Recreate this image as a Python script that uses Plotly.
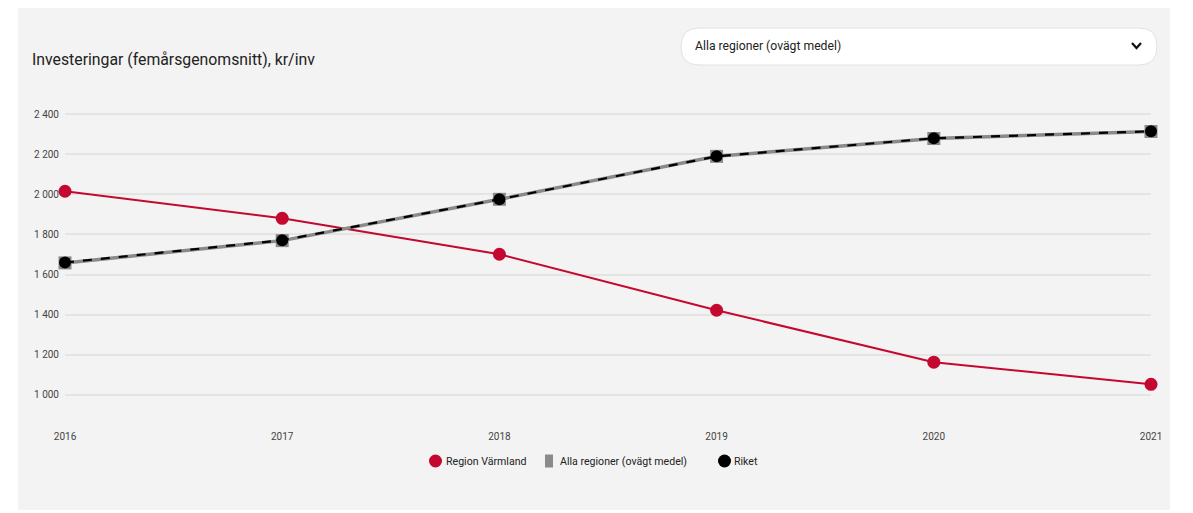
import plotly.graph_objects as go

years = [2016, 2017, 2018, 2019, 2020, 2021]
varmland = [2015, 1880, 1701, 1422, 1163, 1053]
alla_regioner = [1658, 1769, 1975, 2189, 2278, 2313]
riket = [1660, 1771, 1975, 2189, 2279, 2314]
y_ticks = [1000, 1200, 1400, 1600, 1800, 2000, 2200, 2400]

OFF = 8  # page body margin
W, H = 1193 - 2 * OFF, 513 - OFF
L, R, T, B = 65 - OFF, 1151 - OFF, 110 - OFF, 420 - OFF

def px(x):
    return (x - OFF - L) / (R - L)

def py(y):
    return (B - (y - OFF)) / (B - T)

RED = "#c4082f"
GREY = "#8a8a8a"
FONT = "Roboto"

fig = go.Figure()
fig.add_trace(go.Scatter(x=years, y=varmland, mode="lines+markers", name="Region Värmland",
                         line=dict(color=RED, width=2), marker=dict(color=RED, size=13),
                         cliponaxis=False, showlegend=False))
fig.add_trace(go.Scatter(x=years, y=alla_regioner, mode="lines+markers", name="Alla regioner (ovägt medel)",
                         line=dict(color=GREY, width=3.5), marker=dict(color=GREY, size=13, symbol="square"),
                         cliponaxis=False, showlegend=False))
fig.add_trace(go.Scatter(x=years, y=riket, mode="lines+markers", name="Riket",
                         line=dict(color="#000000", width=2.2, dash="dash"), marker=dict(color="#000000", size=12),
                         cliponaxis=False, showlegend=False))

shapes = [
    dict(type="rect", xref="paper", yref="paper", x0=px(18), x1=px(1170), y0=py(510), y1=py(8),
         fillcolor="#f3f3f3", line=dict(width=0), layer="below"),
]
# dropdown box with rounded corners
x0, x1, y0, y1, r = 681, 1157, 28, 65, 18
path = (f"M {px(x0+r)},{py(y0)} L {px(x1-r)},{py(y0)} "
        f"Q {px(x1)},{py(y0)} {px(x1)},{py(y0+r)} "
        f"Q {px(x1)},{py(y1)} {px(x1-r)},{py(y1)} "
        f"L {px(x0+r)},{py(y1)} Q {px(x0)},{py(y1)} {px(x0)},{py(y1-r)} "
        f"Q {px(x0)},{py(y0)} {px(x0+r)},{py(y0)} Z")
shapes.append(dict(type="path", xref="paper", yref="paper", path=path,
                   fillcolor="#ffffff", line=dict(color="#e2e2e2", width=1), layer="below"))
# chevron
shapes.append(dict(type="path", xref="paper", yref="paper",
                   path=f"M {px(1132)},{py(43)} L {px(1136.5)},{py(48)} L {px(1141)},{py(43)}",
                   line=dict(color="#111111", width=2.2)))

# legend (manual)
LY = 461
shapes.append(dict(type="circle", xref="paper", yref="paper",
                   x0=px(429), x1=px(442), y0=py(LY + 6.5), y1=py(LY - 6.5),
                   fillcolor=RED, line=dict(width=0)))
shapes.append(dict(type="rect", xref="paper", yref="paper",
                   x0=px(545), x1=px(553), y0=py(LY + 6.5), y1=py(LY - 6.5),
                   fillcolor=GREY, line=dict(width=0)))
shapes.append(dict(type="circle", xref="paper", yref="paper",
                   x0=px(718), x1=px(731), y0=py(LY + 6.5), y1=py(LY - 6.5),
                   fillcolor="#000000", line=dict(width=0)))

annotations = [
    dict(text="Investeringar (femårsgenomsnitt), kr/inv", xref="paper", yref="paper",
         x=px(30), y=py(60), xanchor="left", yanchor="middle", showarrow=False,
         font=dict(family=FONT, size=15.8, color="#222222")),
    dict(text="Alla regioner (ovägt medel)", xref="paper", yref="paper",
         x=px(693), y=py(46), xanchor="left", yanchor="middle", showarrow=False,
         font=dict(family=FONT, size=12.2, color="#222222")),
]
for name, xpos in [("Region Värmland", 444), ("Alla regioner (ovägt medel)", 558), ("Riket", 732)]:
    annotations.append(dict(text=name, xref="paper", yref="paper", x=px(xpos), y=py(LY),
                            xanchor="left", yanchor="middle", showarrow=False,
                            font=dict(family=FONT, size=10.6, color="#222222")))

fig.update_layout(
    width=W, height=H, autosize=False,
    margin=dict(l=L, r=W - R, t=T, b=H - B, pad=0),
    paper_bgcolor="#ffffff", plot_bgcolor="rgba(0,0,0,0)",
    separators=", ",
    font=dict(family=FONT, size=10, color="#444444"),
    shapes=shapes, annotations=annotations,
    showlegend=False,
    xaxis=dict(range=[2016, 2021], tickvals=years, ticktext=[str(y) for y in years],
               showgrid=False, zeroline=False, showline=False, ticks="",
               tickfont=dict(family=FONT, size=10, color="#444444"), ticklabelstandoff=9),
    yaxis=dict(range=[875, 2420], tickvals=y_ticks, tickformat=",d",
               showgrid=True, gridcolor="#e4e4e4", gridwidth=1.5, zeroline=False,
               showline=False, ticks="", tickfont=dict(family=FONT, size=10, color="#444444"),
               ticklabelstandoff=5),
)

fig.write_html("out.html")
